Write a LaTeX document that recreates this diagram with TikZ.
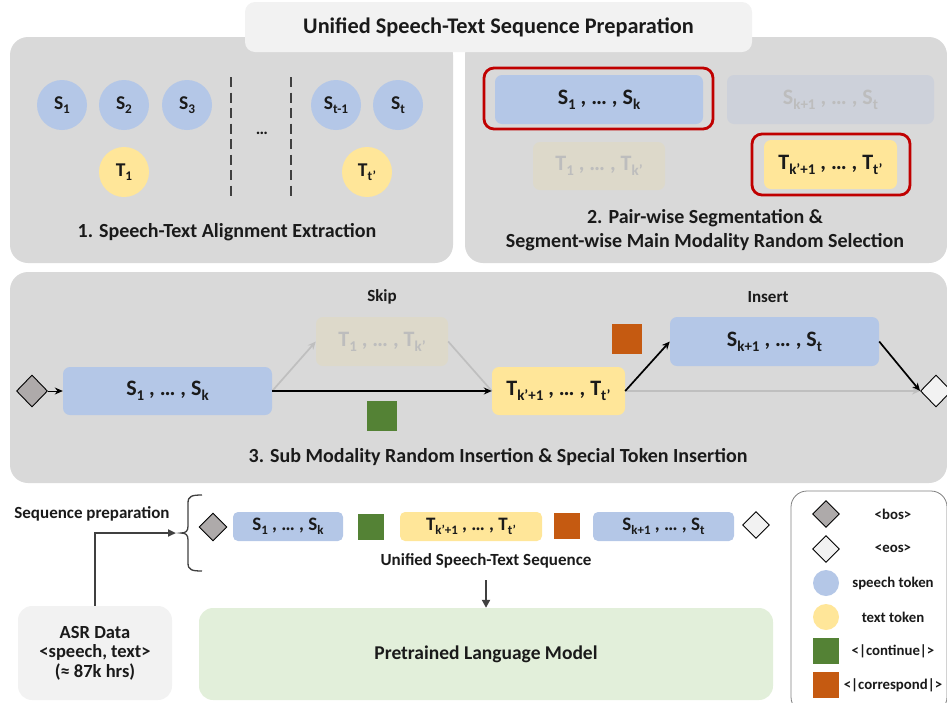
\documentclass[tikz,border=0pt]{standalone}
\usepackage{fontspec}
\setmainfont{Carlito}
\usetikzlibrary{shapes.geometric,arrows.meta}
\definecolor{panelgray}{HTML}{D9D9D9}
\definecolor{titlegray}{HTML}{F2F2F2}
\definecolor{spblue}{HTML}{B4C7E7}
\definecolor{txyellow}{HTML}{FFE699}
\definecolor{fadeblue}{HTML}{CDD1DA}
\definecolor{fadeyellow}{HTML}{DDD9CA}
\definecolor{fadetext}{HTML}{BDBDBD}
\definecolor{selred}{HTML}{C00000}
\definecolor{contgreen}{HTML}{548235}
\definecolor{corrorange}{HTML}{C55A11}
\definecolor{lmgreen}{HTML}{E2EFDA}
\definecolor{bosgray}{HTML}{AEAAAA}
\definecolor{darkline}{HTML}{404040}
\definecolor{grayline}{HTML}{BFBFBF}
\definecolor{txt}{HTML}{1A1A1A}
\newcommand\sbs[1]{\raisebox{-0.22em}{\scalebox{0.68}{#1}}}
\newcommand\fsz[1]{\fontsize{#1}{#1}\selectfont\bfseries}
\tikzset{
  panel/.style={fill=panelgray, rounded corners=18pt, inner sep=0pt},
  tokcircle/.style={circle, inner sep=0pt, minimum size=50pt, font=\fsz{19.5}, text=txt},
  tokbox/.style={rounded corners=7pt, inner sep=0pt, font=\fsz{22}, text=txt},
  seqbox/.style={rounded corners=5pt, inner sep=0pt, minimum height=29pt, font=\fsz{19}, text=txt},
  selbox/.style={draw=selred, line width=2.8pt, rounded corners=10pt, inner sep=0pt},
  sqtok/.style={rectangle, inner sep=0pt},
  dia/.style={diamond, draw=black, line width=0.9pt, inner sep=0pt, aspect=1},
  lab/.style={font=\fsz{20}, text=txt, align=center},
  smalllab/.style={font=\fsz{17}, text=txt},
  leglab/.style={font=\fsz{14.8}, text=txt},
  blackarrow/.style={line width=1.7pt, -{Stealth[length=8pt,width=7pt]}},
  grayarrow/.style={line width=1.7pt, grayline, -{Stealth[length=8pt,width=7pt]}},
  sepline/.style={darkline, line width=2.6pt, dash pattern=on 10pt off 5.5pt},
}
\begin{document}
\begin{tikzpicture}[x=1pt,y=-1pt]
\useasboundingbox (0,0) rectangle (947,702);
% ---------- panels
\node[panel, minimum width=443pt, minimum height=226pt] (p1) at (231.5,150) {};
\node[panel, minimum width=482pt, minimum height=226pt] (p2) at (706,150) {};
\node[panel, minimum width=937pt, minimum height=211pt] (p3) at (478.5,377.5) {};
\node[fill=titlegray, rounded corners=10pt, inner sep=0pt, minimum width=507pt, minimum height=50pt, font=\fsz{22.3}, text=txt] (title) at (498.5,27) {Unified Speech-Text Sequence Preparation};
% ---------- panel 1
\node[tokcircle, fill=spblue] (s1) at (62,105) {S\sbs{1}};
\node[tokcircle, fill=spblue] (s2) at (124,105) {S\sbs{2}};
\node[tokcircle, fill=spblue] (s3) at (187,105) {S\sbs{3}};
\node[tokcircle, fill=spblue] (stm) at (336,105) {S\sbs{t-1}};
\node[tokcircle, fill=spblue] (st) at (398,105) {S\sbs{t}};
\node[tokcircle, fill=txyellow] (t1) at (124,172) {T\sbs{1}};
\node[tokcircle, fill=txyellow] (ttp) at (367,172) {T\sbs{t'}};
\coordinate (da1) at (231,77); \coordinate (db1) at (231,198);
\coordinate (da2) at (291,77); \coordinate (db2) at (291,198);
\draw[sepline] (da1) -- (db1);
\draw[sepline] (da2) -- (db2);
\node[font=\fsz{17}, text=txt] (dots1) at (262,133) {…};
\node[lab] (cap1) at (227,232) {1. Speech-Text Alignment Extraction};
% ---------- panel 2
\node[tokbox, fill=spblue, minimum width=208pt, minimum height=49pt] (p2s) at (599,99.5) {S\sbs{1} , … , S\sbs{k}};
\node[tokbox, fill=fadeblue, text=fadetext, minimum width=207pt, minimum height=49pt] (p2sf) at (830.5,99.5) {S\sbs{k+1} , … , S\sbs{t}};
\node[tokbox, fill=fadeyellow, text=fadetext, minimum width=132pt, minimum height=48pt] (p2tf) at (599,166) {T\sbs{1} , … , T\sbs{k'}};
\node[tokbox, fill=txyellow, minimum width=133pt, minimum height=49pt] (p2t) at (830.5,164.5) {T\sbs{k'+1} , … , T\sbs{t'}};
\node[selbox, minimum width=229pt, minimum height=61pt] (sel1) at (598.5,98.5) {};
\node[selbox, minimum width=158pt, minimum height=61pt] (sel2) at (831,164.5) {};
\node[lab] (cap2a) at (705,218) {2. Pair-wise Segmentation \&};
\node[lab] (cap2b) at (705,242) {Segment-wise Main Modality Random Selection};
% ---------- panel 3
\node[dia, fill=bosgray, minimum width=31pt, minimum height=32pt] (bos1) at (32,391) {};
\node[tokbox, fill=spblue, minimum width=209pt, minimum height=48pt] (s1k) at (167.5,391) {S\sbs{1} , … , S\sbs{k}};
\node[tokbox, fill=fadeyellow, text=fadetext, minimum width=132pt, minimum height=49pt] (tskip) at (382,341.5) {T\sbs{1} , … , T\sbs{k'}};
\node[tokbox, fill=txyellow, minimum width=133pt, minimum height=48pt] (tk) at (558.5,391) {T\sbs{k'+1} , … , T\sbs{t'}};
\node[tokbox, fill=spblue, minimum width=209pt, minimum height=49pt] (skt) at (774.5,341.5) {S\sbs{k+1} , … , S\sbs{t}};
\node[dia, fill=titlegray, minimum width=31pt, minimum height=32pt] (eos1) at (936,391) {};
\node[sqtok, fill=contgreen, minimum size=30pt] (green1) at (382,416) {};
\node[sqtok, fill=corrorange, minimum size=30pt] (orange1) at (627,339) {};
\node[smalllab] (skip) at (382,297) {Skip};
\node[smalllab] (insert) at (768,297) {Insert};
\node[lab] (cap3) at (498,457) {3. Sub Modality Random Insertion \& Special Token Insertion};
\draw[grayarrow] (s1k.east) -- (tskip.west);
\draw[grayline, line width=1.7pt] (tskip.east) -- (tk.west);
\draw[grayarrow] (tk.east) -- (eos1.west);
\draw[blackarrow, line width=1pt] (bos1.east) -- (s1k.west);
\draw[blackarrow] (s1k.east) -- (tk.west);
\draw[blackarrow] (tk.east) -- (skt.west);
\draw[blackarrow] (skt.east) -- (eos1.west);
% ---------- bottom: sequence
\node[smalllab] (seqprep) at (92,514) {Sequence preparation};
\draw[darkline, line width=1.3pt] (202,495) .. controls (192,495) and (188,496) .. (188,503) -- (188,526) .. controls (188,531) and (186,533) .. (181,533) .. controls (186,533) and (188,535) .. (188,540) -- (188,563) .. controls (188,570) and (192,571) .. (202,571);
\node[dia, fill=bosgray, minimum width=28pt, minimum height=28pt] (bos2) at (213,527) {};
\node[seqbox, fill=spblue, minimum width=110pt] (q1) at (288,526.5) {S\sbs{1} , … , S\sbs{k}};
\node[sqtok, fill=contgreen, minimum size=26pt] (green2) at (371,526.5) {};
\node[seqbox, fill=txyellow, minimum width=142pt] (q2) at (471,526.5) {T\sbs{k'+1} , … , T\sbs{t'}};
\node[sqtok, fill=corrorange, minimum size=26pt] (orange2) at (567,525.5) {};
\node[seqbox, fill=spblue, minimum width=141pt] (q3) at (663.5,526.5) {S\sbs{k+1} , … , S\sbs{t}};
\node[dia, fill=titlegray, minimum width=27pt, minimum height=27pt] (eos2) at (756,525) {};
\node[smalllab] (unified) at (486,561) {Unified Speech-Text Sequence};
\node[fill=lmgreen, rounded corners=14pt, inner sep=0pt, minimum width=574pt, minimum height=92pt, font=\fsz{19.5}, text=txt] (lm) at (486,654) {Pretrained Language Model};
\node[fill=titlegray, rounded corners=14pt, inner sep=0pt, minimum width=154pt, minimum height=94pt, font=\fsz{18.5}, text=txt, align=center] (asr) at (95,653) {ASR Data\\[1pt]<speech, text>\\[1pt](≈ 87k hrs)};
\coordinate (unibot) at (486,580);
\coordinate (bend) at (95,533);
\coordinate (bracetip) at (176,533);
\draw[darkline, line width=2pt, -{Triangle[length=8pt,width=7pt]}] (asr.north) -- (bend) -- (bracetip);
\draw[darkline, line width=2pt, -{Triangle[length=8pt,width=8pt]}] (unibot) -- (lm.north);
% ---------- legend
\node[draw=gray, line width=0.8pt, fill=white, rounded corners=16pt, inner sep=0pt, minimum width=156pt, minimum height=222pt] (legend) at (869,602) {};
\node[dia, fill=bosgray, minimum width=27pt, minimum height=27pt] (lbos) at (826,514) {};
\node[dia, fill=titlegray, minimum width=27pt, minimum height=27pt] (leos) at (826,549) {};
\node[circle, fill=spblue, inner sep=0pt, minimum size=26pt] (lsp) at (826,583) {};
\node[circle, fill=txyellow, inner sep=0pt, minimum size=26pt] (ltx) at (826,617) {};
\node[sqtok, fill=contgreen, minimum size=26pt] (lcont) at (826,651) {};
\node[sqtok, fill=corrorange, minimum size=26pt] (lcorr) at (826,685) {};
\node[leglab] (tbos) at (893,514) {<bos>};
\node[leglab] (teos) at (893,549) {<eos>};
\node[leglab] (tsp) at (893,583) {speech token};
\node[leglab] (ttx) at (893,617) {text token};
\node[leglab] (tcont) at (893,651) {<|continue|>};
\node[leglab] (tcorr) at (893,685) {<|correspond|>};
\end{tikzpicture}
\end{document}
